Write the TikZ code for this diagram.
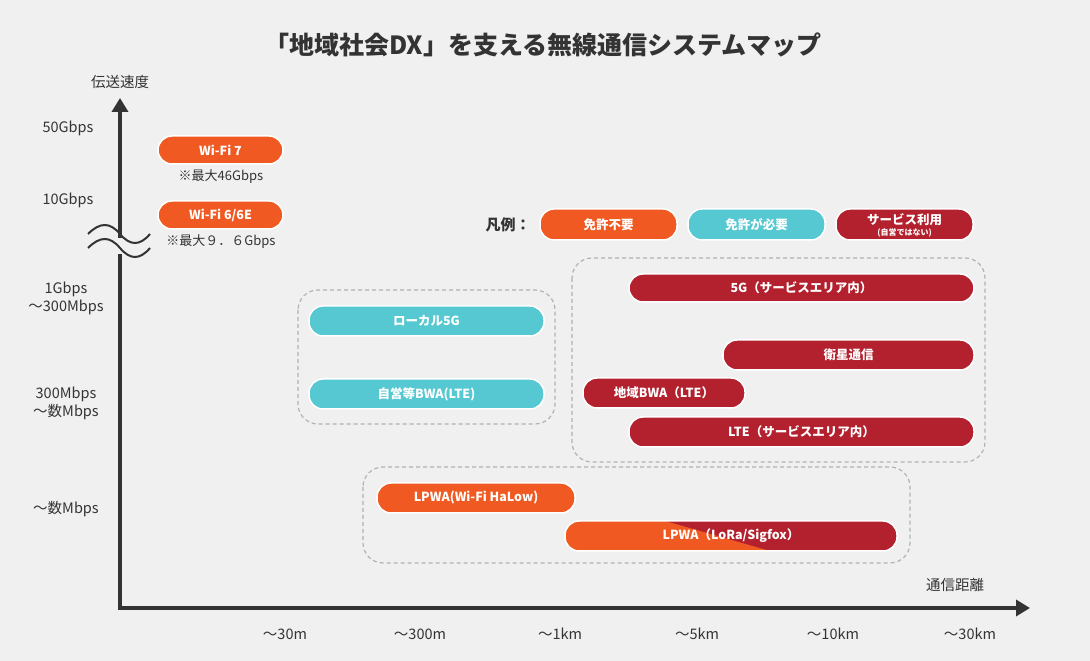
\documentclass[tikz,border=0pt]{standalone}
\usepackage{fontspec}
\setmainfont{Noto Sans CJK JP}
\usetikzlibrary{arrows.meta}
\definecolor{bg}{HTML}{F0F0F0}
\definecolor{og}{HTML}{F05A22}
\definecolor{cy}{HTML}{55C8D2}
\definecolor{rd}{HTML}{B3202E}
\definecolor{tx}{HTML}{333333}
\tikzset{
 grp/.style={draw=gray!60,dashed,line width=1.2pt,rounded corners=20pt,dash pattern=on 4pt off 3pt},
 lab/.style={text=tx,font=\fontsize{14.5}{18}\selectfont},
}
\newcommand{\B}[7]{% name,x1,y1,x2,y2,color,text
 \fill[#6,draw=white,line width=1.5pt,rounded corners=14pt] (#2,661-#3) rectangle (#4,661-#5);
 \node[text=white,font=\bfseries\fontsize{12.5}{12}\selectfont] (#1) at ({(#2+#4)/2},{661-(#3+#5)/2}) {#7};}
\begin{document}
\begin{tikzpicture}[x=1pt,y=1pt]
\fill[bg] (0,0) rectangle (1090,661);
\useasboundingbox (0,0) rectangle (1090,661);
\node[text=tx,font=\bfseries\fontsize{25}{25}\selectfont] (title) at (543,616) {「地域社会DX」を支える無線通信システムマップ};
% axes
\draw[line width=3.5pt,tx,-{Triangle[length=14pt,width=16pt]}] (120,53) -- (120,563);
\draw[line width=3.5pt,tx,-{Triangle[length=14pt,width=16pt]}] (118,53) -- (1030,53);
\node[lab] (ya) at (120,579) {伝送速度};
\node[lab] (xa) at (955,76) {通信距離};
% break
\fill[bg] (85,407) rectangle (155,423);
\foreach \yy in {427,413} \draw[tx,line width=2pt] (88,\yy) .. controls (100,\yy+12) and (110,\yy+12) .. (120,\yy) .. controls (130,\yy-12) and (140,\yy-12) .. (150,\yy);
% y labels
\node[lab,anchor=east] (y1) at (97,533) {50Gbps};
\node[lab,anchor=east] (y2) at (97,461) {10Gbps};
\node[lab,align=center] (y3) at (66,363) {1Gbps\\～300Mbps};
\node[lab,align=center] (y4) at (66,258) {300Mbps\\～数Mbps};
\node[lab] (y5) at (66,152) {～数Mbps};
% x labels
\foreach \xx/\t [count=\i] in {285/～30m,420/～300m,560/～1km,697/～5km,833/～10km,970/～30km}
 \node[lab] (x\i) at (\xx,27) {\t};
% groups
\draw[grp] (298,661-290) rectangle (555,661-424);
\draw[grp] (572,661-258) rectangle (985,661-462);
\draw[grp] (363,661-467) rectangle (910,661-563);
% wifi
\B{w7}{158}{136}{283}{164}{og}{Wi-Fi 7}
\node[lab,font=\fontsize{13}{13}\selectfont] (w7n) at (221,484) {※最大46Gbps};
\B{w6}{158}{201}{283}{229}{og}{Wi-Fi 6/6E}
\node[lab,font=\fontsize{13}{13}\selectfont] (w6n) at (221,419) {※最大９．６Gbps};
% legend
\node[lab,font=\bfseries\fontsize{15}{15}\selectfont] (lg) at (508,436) {凡例：};
\B{l1}{540}{209}{677}{240}{og}{免許不要}
\B{l2}{688}{209}{825}{240}{cy}{免許が必要}
\fill[rd,draw=white,line width=1.5pt,rounded corners=14pt] (836,661-209) rectangle (973,661-240);
\node[text=white,align=center,font=\bfseries\fontsize{12.5}{13}\selectfont] (l3) at (904.5,436) {サービス利用\\[-2pt]{\fontsize{8}{9}\selectfont (自営ではない)}};
% bars
\B{g5}{629}{274}{974}{302}{rd}{5G（サービスエリア内）}
\B{lo}{309}{306}{544}{336}{cy}{ローカル5G}
\B{sa}{723}{340}{974}{370}{rd}{衛星通信}
\B{bw}{309}{379}{544}{409}{cy}{自営等BWA(LTE)}
\B{rb}{583}{378}{745}{408}{rd}{地域BWA（LTE）}
\B{lt}{629}{417}{974}{447}{rd}{LTE（サービスエリア内）}
\B{hl}{377}{483}{575}{513}{og}{LPWA(Wi-Fi HaLow)}
% LoRa bar
\begin{scope}
\clip[rounded corners=14pt] (565,661-521) rectangle (897,661-551);
\fill[rd] (565,661-521) rectangle (897,661-551);
\fill[og] (565,661-521) -- (665,661-521) -- (770,661-551) -- (565,661-551) -- cycle;
\end{scope}
\draw[white,line width=1.5pt,rounded corners=14pt] (565,661-521) rectangle (897,661-551);
\node[text=white,font=\bfseries\fontsize{12.5}{12}\selectfont] (lr) at (731,125) {LPWA（LoRa/Sigfox）};
\end{tikzpicture}
\end{document}
